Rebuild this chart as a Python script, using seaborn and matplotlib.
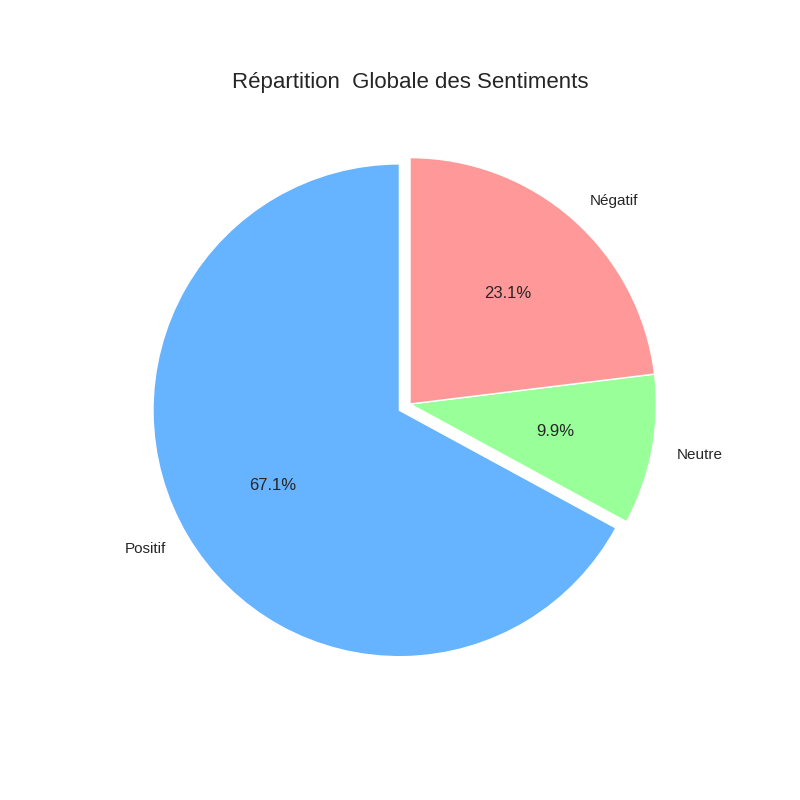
import numpy as np
import pandas as pd
import matplotlib
matplotlib.use("Agg")
import matplotlib.pyplot as plt
import seaborn as sns

sns.set_theme(style="white")
plt.rcParams['font.family'] = ['Liberation Sans', 'DejaVu Sans']

# sentiment shares (percent)
labels = ["Positif", "Neutre", "Négatif"]
values = [67.1, 9.87, 23.07]
colors = ["#66b3ff", "#99ff99", "#ff9999"]
explode = [0.05, 0, 0]

fig = plt.figure(figsize=(8, 8), dpi=100)
wedges, texts, autotexts = plt.pie(values, labels=labels, colors=colors, explode=explode,
                                   autopct='%1.1f%%', startangle=90, textprops={'fontsize': 11})
for t in autotexts:
    t.set_fontsize(12)
plt.title("Répartition  Globale des Sentiments", fontsize=16)
plt.savefig("out.png", dpi=100)
